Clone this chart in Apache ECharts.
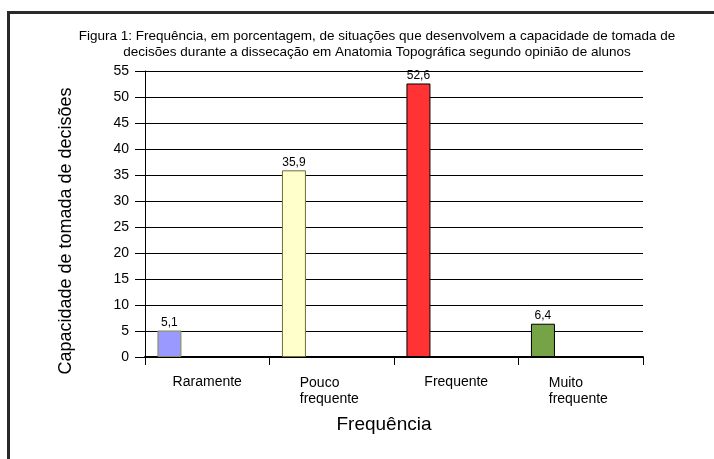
<!DOCTYPE html>
<html>
<head>
<meta charset="utf-8">
<script src="https://cdn.jsdelivr.net/npm/echarts@6/dist/echarts.min.js"></script>
<style>
  html, body { margin: 0; padding: 0; background: #fff; }
  #chart { width: 714px; height: 459px; }
</style>
</head>
<body>
<div id="chart"></div>
<script>
// data
const categories = ['Raramente', 'Pouco\nfrequente', 'Frequente', 'Muito\nfrequente'];
const values = [5.1, 35.9, 52.6, 6.4];
const barColors = ['#9999FF', '#FFFFCC', '#FF3333', '#77A347'];
const barBorders = ['#8C8C46', '#6E6E3C', '#000000', '#000000'];
const yTicks = [0, 5, 10, 15, 20, 25, 30, 35, 40, 45, 50, 55];

const font = 'Liberation Sans, Arial, sans-serif';

const chart = echarts.init(document.getElementById('chart'));

chart.setOption({
  animation: false,
  title: {
    text: 'Figura 1: Frequência, em porcentagem, de situações que desenvolvem a capacidade de tomada de\ndecisões durante a dissecação em Anatomia Topográfica segundo opinião de alunos',
    left: 372,
    top: 23,
    textAlign: 'center',
    textStyle: { fontFamily: font, fontSize: 13.5, fontWeight: 'normal', color: '#000', lineHeight: 16 }
  },
  graphic: [
    {
      type: 'rect',
      shape: { x: 8.5, y: 12.5, width: 800, height: 600 },
      style: { fill: 'none', stroke: '#2a2a2a', lineWidth: 3 },
      silent: true
    },
    {
      // y axis title
      type: 'text',
      x: 66,
      y: 231,
      rotation: Math.PI / 2,
      style: {
        text: 'Capacidade de tomada de decisões',
        font: '18px ' + font,
        fill: '#000',
        align: 'center',
        verticalAlign: 'middle'
      },
      silent: true
    },
    {
      // x axis title
      type: 'text',
      x: 384,
      y: 425,
      style: {
        text: 'Frequência',
        font: '19px ' + font,
        fill: '#000',
        align: 'center',
        verticalAlign: 'middle'
      },
      silent: true
    }
  ],
  grid: { left: 145, right: 71, top: 71, bottom: 102 },
  xAxis: {
    type: 'category',
    data: categories,
    axisLine: { lineStyle: { color: '#000', width: 2 } },
    axisTick: { show: true, length: 8, lineStyle: { color: '#000' } },
    axisLabel: {
      margin: 18,
      fontFamily: font,
      fontSize: 14,
      color: '#000',
      formatter: function (v) {
        return v.indexOf('\n') >= 0 ? '{l|' + v + '}' : v;
      },
      rich: {
        l: { width: 64, align: 'left', fontFamily: font, fontSize: 14, color: '#000', lineHeight: 16 }
      }
    }
  },
  yAxis: {
    type: 'value',
    min: 0,
    max: 55,
    interval: 5,
    axisLine: { show: true, lineStyle: { color: '#000', width: 1 } },
    axisTick: { show: true, length: 10, lineStyle: { color: '#000' } },
    axisLabel: {
      margin: 16,
      fontFamily: font,
      fontSize: 14,
      color: '#000',
      formatter: v => (yTicks.indexOf(v) >= 0 ? String(v) : '')
    },
    splitLine: { show: true, lineStyle: { color: '#000', width: 1 } }
  },
  series: [
    {
      type: 'bar',
      barWidth: 24,
      barGap: '215%',
      data: values.map((v, i) => ({
        value: v,
        itemStyle: { color: barColors[i], borderColor: barBorders[i], borderWidth: 1 }
      })),
      label: {
        show: true,
        position: 'top',
        distance: 2,
        fontFamily: font,
        fontSize: 12,
        color: '#000',
        formatter: p => String(p.value).replace('.', ',')
      }
    },
    {
      // empty second series keeps the bars on the left of each category
      type: 'bar',
      barWidth: 24,
      data: values.map(() => null)
    }
  ]
});
</script>
</body>
</html>
